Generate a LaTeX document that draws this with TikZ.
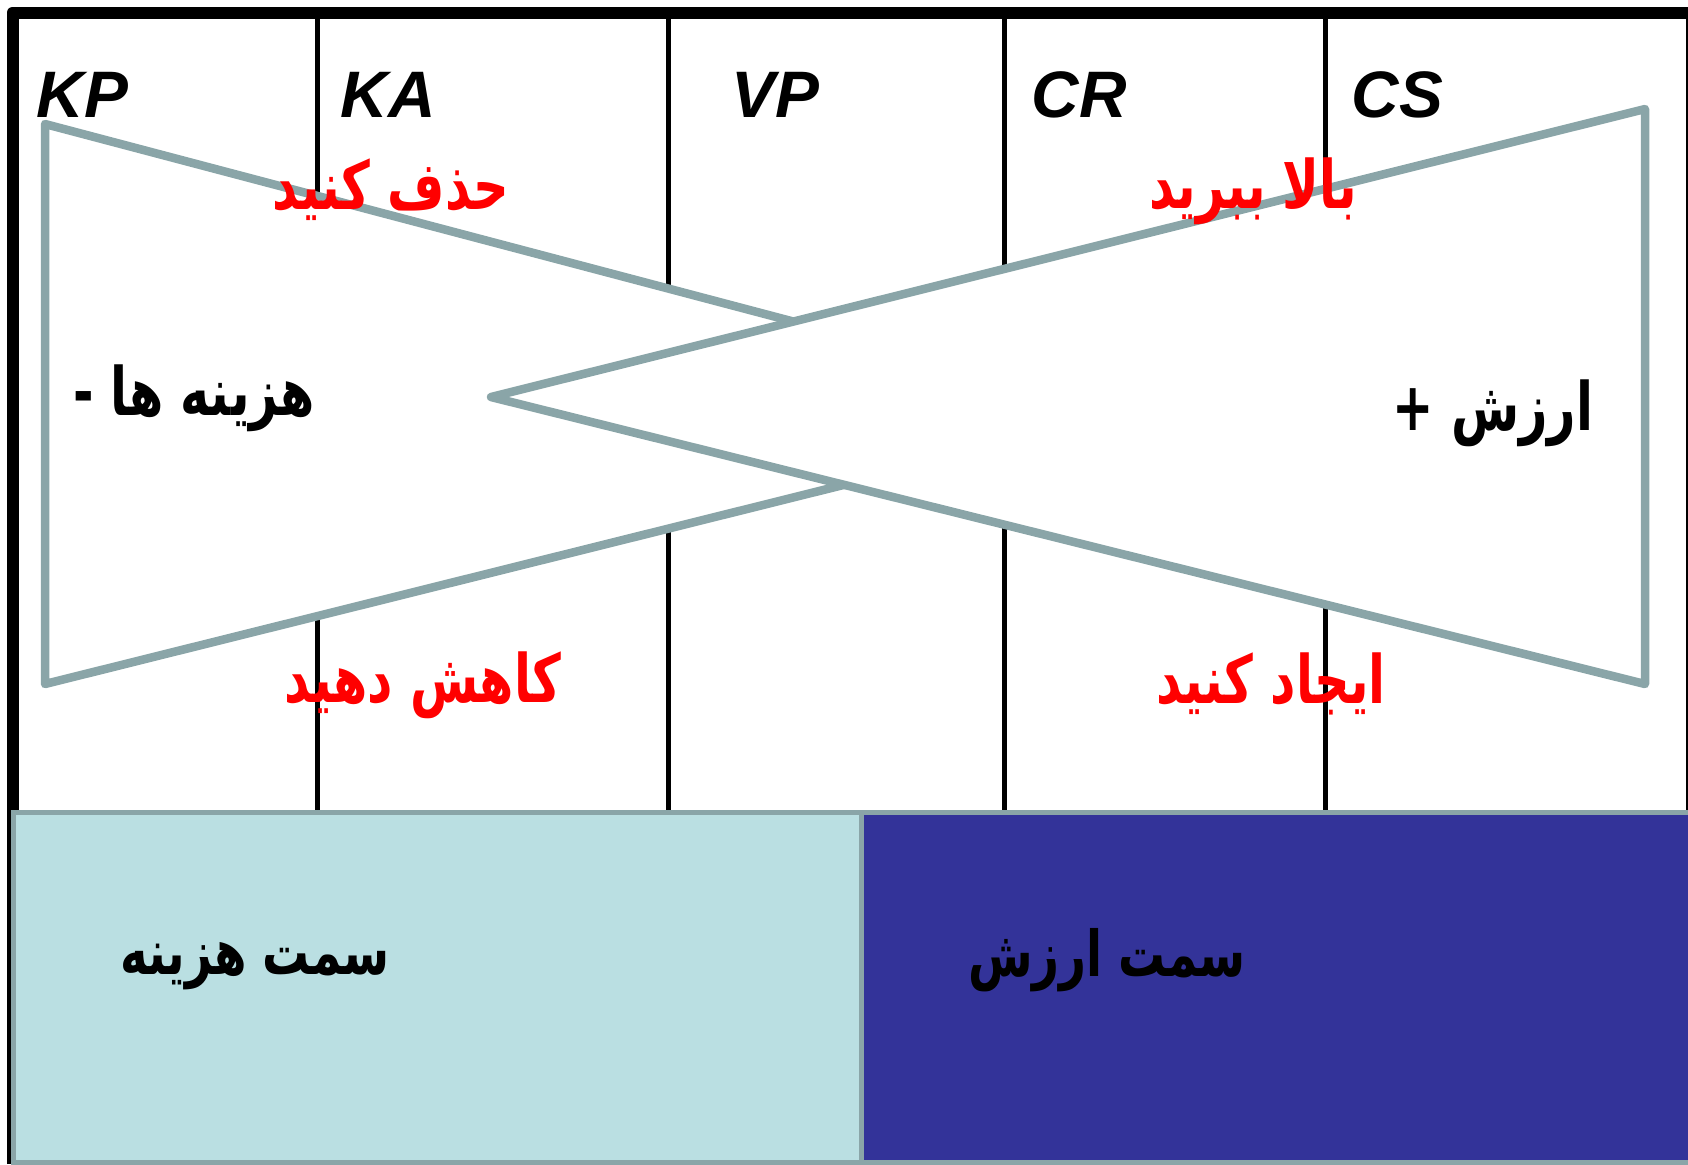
\documentclass[tikz,border=0pt]{standalone}
\usepackage{fontspec}
\setmainfont{Liberation Sans}
\newfontfamily\farsifont[Script=Arabic, FakeStretch=0.74]{DejaVu Sans}
\TeXXeTstate=1
\definecolor{edgegrey}{HTML}{8AA5A8}
\definecolor{costblue}{HTML}{BADFE2}
\definecolor{valueblue}{HTML}{333399}

\begin{document}
\begin{tikzpicture}[
    x=0.1mm, y=-0.1mm,
    colhead/.style={anchor=base west, inner sep=0pt, font=\fontsize{18.7}{20}\selectfont\bfseries\itshape},
    todo/.style={text=red, inner sep=0pt, font=\farsifont\bfseries\fontsize{19}{23}\selectfont},
    sidelbl/.style={inner sep=0pt, font=\farsifont\bfseries\fontsize{19}{23}\selectfont},
    divider/.style={line width=0.5mm},
    wing/.style={draw=edgegrey, fill=white, line width=0.85mm, line join=round},
    side/.style={draw=edgegrey, line width=0.5mm}
]
    \useasboundingbox (0,0) rectangle (1688,1164);

    % frame and canvas columns
    \draw[line width=1.2mm, line join=round] (12.5,1164) -- (12.5,12.5) -- (1688,12.5);
    \draw[line width=0.3mm] (1687,12) -- (1687,812);
    \foreach \x in {317,668,1004,1325}
        \draw[divider] (\x,12) -- (\x,812);

    % cost and value wedges
    \filldraw[wing] (45,124) -- (1136,412) -- (45,684) -- cycle;
    \filldraw[wing] (491,397) -- (1645,109) -- (1645,684) -- cycle;

    % bottom sides
    \filldraw[side, fill=costblue] (13.5,812) rectangle (861,1162);
    \filldraw[side, fill=valueblue] (861,812) rectangle (1700,1162);

    \node[colhead] (kp) at (36,117) {KP};
    \node[colhead] (ka) at (340,117) {KA};
    \node[colhead] (vp) at (731,117) {VP};
    \node[colhead] (cr) at (1031,117) {CR};
    \node[colhead] (cs) at (1351,117) {CS};

    \node[todo] (cut) at (391,190) {\beginR حذف کنید\endR};
    \node[todo] (raise) at (1253,191) {\beginR بالا ببرید\endR};
    \node[todo] (reduce) at (423,685) {\beginR کاهش دهید\endR};
    \node[todo] (create) at (1271,684) {\beginR ایجاد کنید\endR};

    \node[sidelbl] (costs) at (194,398) {\beginR هزینه ها -\endR};
    \node[sidelbl] (value) at (1493,413) {\beginR ارزش +\endR};

    \node[sidelbl, font=\farsifont\bfseries\fontsize{18}{22}\selectfont] (costside) at (255,966) {\beginR سمت هزینه\endR};
    \node[sidelbl, font=\farsifont\bfseries\fontsize{18}{22}\selectfont] (valueside) at (1107,960) {\beginR سمت ارزش\endR};
\end{tikzpicture}
\end{document}
